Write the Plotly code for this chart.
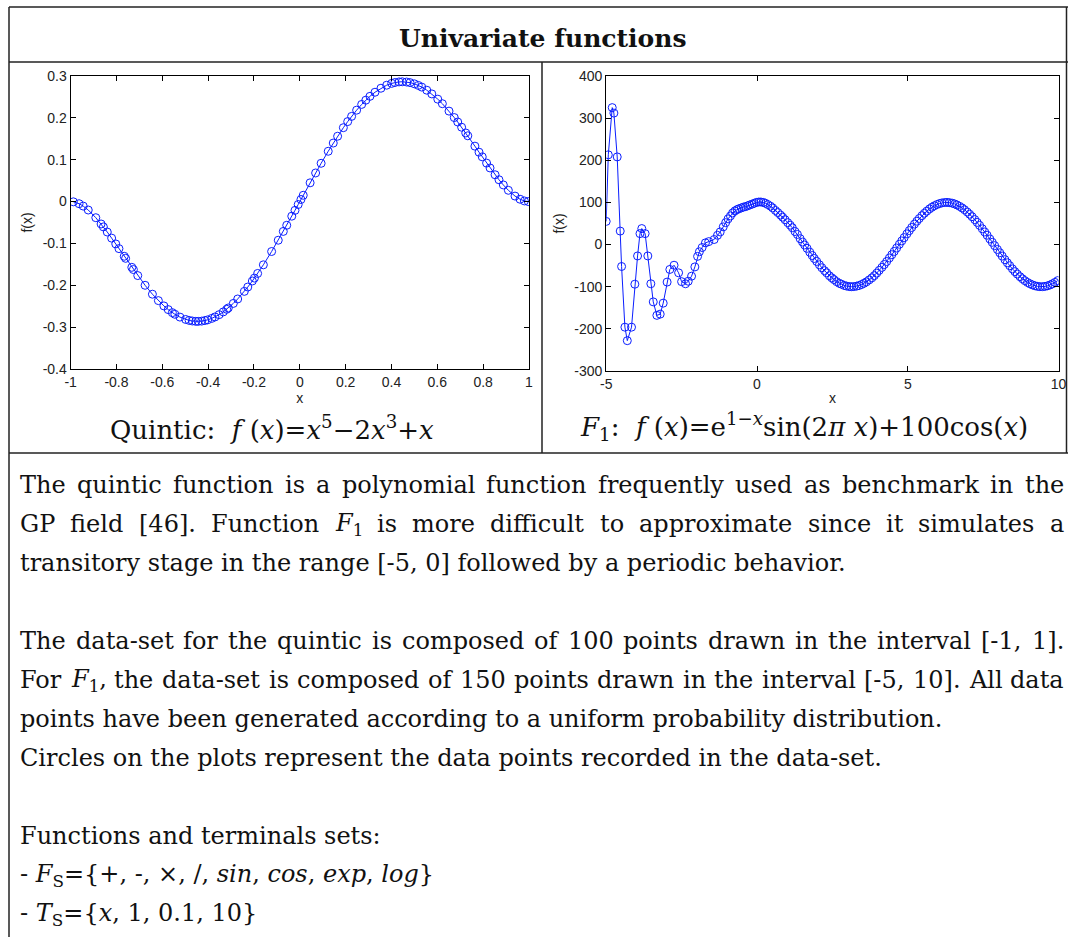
import re
import plotly.graph_objects as go

# ---- data: quintic benchmark samples ----
quintic_x = [-0.988, -0.963, -0.945, -0.923, -0.890, -0.867, -0.857, -0.840, -0.821, -0.803,
             -0.789, -0.766, -0.760, -0.733, -0.726, -0.707, -0.675, -0.643, -0.617, -0.593,
             -0.574, -0.556, -0.545, -0.523, -0.498, -0.483, -0.469, -0.454, -0.443, -0.428,
             -0.414, -0.402, -0.384, -0.370, -0.352, -0.334, -0.319, -0.312, -0.290, -0.271,
             -0.242, -0.227, -0.207, -0.198, -0.184, -0.159, -0.123, -0.094, -0.072, -0.057,
             -0.035, -0.021, -0.007,
             0.005, 0.015, 0.045, 0.069, 0.093, 0.124, 0.146, 0.165, 0.190, 0.209,
             0.226, 0.248, 0.270, 0.288, 0.306, 0.328, 0.354, 0.379, 0.401, 0.415,
             0.433, 0.447, 0.466, 0.481, 0.500, 0.517, 0.532, 0.554, 0.576, 0.602,
             0.622, 0.651, 0.674, 0.689, 0.706, 0.724, 0.733, 0.764, 0.782, 0.796,
             0.815, 0.830, 0.852, 0.869, 0.888, 0.910, 0.939, 0.961, 0.980, 0.997]
quintic_y = [-0.0006, -0.0051, -0.0108, -0.0202, -0.0385, -0.0535, -0.0605, -0.0728, -0.0873, -0.1012,
             -0.1124, -0.1307, -0.1356, -0.1571, -0.1624, -0.1768, -0.2000, -0.2213, -0.2366, -0.2493,
             -0.2581, -0.2654, -0.2693, -0.2760, -0.2816, -0.2839, -0.2853, -0.2862, -0.2862, -0.2856,
             -0.2842, -0.2826, -0.2791, -0.2756, -0.2702, -0.2636, -0.2574, -0.2542, -0.2433, -0.2327,
             -0.2145, -0.2042, -0.1897, -0.1828, -0.1717, -0.1511, -0.1193, -0.0923, -0.0713, -0.0566,
             -0.0349, -0.0210, -0.0070,
             0.0050, 0.0150, 0.0448, 0.0683, 0.0914, 0.1202, 0.1398, 0.1561, 0.1765, 0.1911,
             0.2035, 0.2184, 0.2321, 0.2422, 0.2514, 0.2612, 0.2708, 0.2780, 0.2824, 0.2844,
             0.2859, 0.2862, 0.2856, 0.2842, 0.2813, 0.2775, 0.2735, 0.2661, 0.2572, 0.2447,
             0.2338, 0.2161, 0.2007, 0.1901, 0.1776, 0.1639, 0.1571, 0.1324, 0.1180, 0.1069,
             0.0919, 0.0803, 0.0640, 0.0521, 0.0397, 0.0269, 0.0131, 0.0056, 0.0015, 0.0000]

# ---- data: F1 samples ----
f1_x = [-5.0, -4.93, -4.80, -4.745, -4.635, -4.535, -4.49, -4.38, -4.30, -4.16,
        -4.05, -3.96, -3.88, -3.82, -3.71, -3.62, -3.52, -3.44, -3.32, -3.21,
        -3.11, -2.98, -2.89, -2.75, -2.60, -2.50, -2.37, -2.28, -2.17, -2.06,
        -1.97, -1.91, -1.82, -1.71, -1.60, -1.42, -1.31, -1.22, -1.12, -1.04, -0.96,
        -0.88, -0.81, -0.73, -0.66, -0.60, -0.52, -0.45, -0.38, -0.31, -0.24,
        -0.16, -0.09, -0.02, 0.06, 0.13, 0.21, 0.28, 0.36, 0.45, 0.52,
        0.61, 0.69, 0.78, 0.85, 0.93,
        1.02, 1.10, 1.17, 1.26, 1.34, 1.43, 1.51, 1.58, 1.66, 1.75, 1.83, 1.90, 1.98,
        2.07, 2.15, 2.24, 2.31, 2.40, 2.48, 2.55, 2.64, 2.73, 2.80, 2.89, 2.97,
        3.06, 3.13, 3.21, 3.30, 3.38, 3.47, 3.55, 3.63, 3.72, 3.81, 3.89, 3.97,
        4.05, 4.14, 4.22, 4.30, 4.39, 4.47, 4.55, 4.63, 4.72, 4.80, 4.88, 4.97,
        5.05, 5.13, 5.22, 5.30, 5.38, 5.47, 5.55, 5.63, 5.72, 5.80, 5.88, 5.97,
        6.05, 6.13, 6.22, 6.30, 6.38, 6.47, 6.55, 6.63, 6.72, 6.80, 6.88, 6.97,
        7.05, 7.13, 7.22, 7.30, 7.38, 7.47, 7.55, 7.63, 7.72, 7.80, 7.88, 7.97,
        8.05, 8.13, 8.22, 8.30, 8.38, 8.47, 8.55, 8.63, 8.72, 8.80, 8.88, 8.97,
        9.05, 9.13, 9.22, 9.30, 9.38, 9.47, 9.55, 9.63, 9.72, 9.80, 9.88, 9.97]
f1_y = [55, 213, 325, 312, 208, 32, -52, -196, -228, -196,
        -94, -27, 26, 38, 26, -27, -93, -136, -168, -165,
        -139, -89, -59, -49, -67, -88, -93, -87, -75, -53,
        -28, -17, -7, 4, 7, 12, 22, 30, 42, 52, 61,
        68, 75, 80, 83, 85, 87, 89, 90, 92, 94,
        96, 98, 100, 101, 101, 100, 98, 95, 91, 87,
        81, 76, 70, 65, 59,
        52, 46, 40, 31, 24, 14, 6, -1, -9, -18, -26, -33, -40,
        -48, -55, -62, -67, -74, -79, -83, -88, -92, -94, -97, -98.5,
        -99.7, -100, -99.7, -98.7, -97.2, -94.7, -91.8, -88.4, -83.8, -78.9, -73.7, -67.7,
        -61.3, -54.2, -47.3, -40.2, -31.8, -24.0, -16.2, -8.2, 0.7, 8.7, 16.6, 25.4,
        33.1, 40.6, 48.6, 55.5, 61.9, 68.7, 74.3, 79.4, 84.6, 88.6, 92.0, 95.1,
        97.3, 98.8, 99.8, 100, 99.5, 98.3, 96.5, 94.0, 90.6, 86.9, 82.7, 77.3,
        72.0, 66.2, 59.3, 52.6, 45.6, 37.4, 29.9, 22.2, 13.3, 5.4, -2.6, -11.6,
        -19.5, -27.3, -35.8, -43.2, -50.2, -57.8, -64.2, -70.0, -76.2, -81.1, -85.6, -89.9,
        -93.0, -95.7, -97.9, -99.2, -99.9, -99.9, -99.2, -97.9, -95.7, -93.0, -89.8, -85.5]

# ---- tick labels ----
quintic_xticks = [-1, -0.8, -0.6, -0.4, -0.2, 0, 0.2, 0.4, 0.6, 0.8, 1]
quintic_xlabels = ["-1", "-0.8", "-0.6", "-0.4", "-0.2", "0", "0.2", "0.4", "0.6", "0.8", "1"]
quintic_yticks = [-0.4, -0.3, -0.2, -0.1, 0, 0.1, 0.2, 0.3]
quintic_ylabels = ["-0.4", "-0.3", "-0.2", "-0.1", "0", "0.1", "0.2", "0.3"]
f1_xticks = [-5, 0, 5, 10]
f1_xlabels = ["-5", "0", "5", "10"]
f1_yticks = [-300, -200, -100, 0, 100, 200, 300, 400]
f1_ylabels = ["-300", "-200", "-100", "0", "100", "200", "300", "400"]

# ---- text ----
title_text = "<b>Univariate functions</b>"
quintic_label = "Quintic:  <i>f</i> (<i>x</i>)=<i>x</i><sup>5</sup>\u22122<i>x</i><sup>3</sup>+<i>x</i>"
f1_label = ("<i>F</i><sub>1</sub>:  <i>f</i> (<i>x</i>)=e<sup>1\u2212<i>x</i></sup>"
            "sin(2<i>\u03c0 x</i>)+100cos(<i>x</i>)")
body_lines = [
    "The quintic function is a polynomial function frequently used as benchmark in the",
    "GP field [46]. Function <i>F</i><sub>1</sub> is more difficult to approximate since it simulates a",
    "transitory stage in the range [-5, 0] followed by a periodic behavior.",
    "",
    "The data-set for the quintic is composed of 100 points drawn in the interval [-1, 1].",
    "For <i>F</i><sub>1</sub>, the data-set is composed of 150 points drawn in the interval [-5, 10]. All data",
    "points have been generated according to a uniform probability distribution.",
    "Circles on the plots represent the data points recorded in the data-set.",
    "",
    "Functions and terminals sets:",
    "- <i>F</i><sub>S</sub>={+, -, \u00d7, /, <i>sin</i>, <i>cos</i>, <i>exp</i>, <i>log</i>}",
    "- <i>T</i><sub>S</sub>={<i>x</i>, 1, 0.1, 10}",
]
justified = {0, 1, 4, 5}

W, H = 1068, 937
SERIF = "DejaVu Serif"
SANS = "Liberation Sans, Arial, sans-serif"
BLUE = "rgb(10,30,255)"
BODY_SIZE = 24
TEXT_LEFT, TEXT_RIGHT = 18, 1062

# approximate DejaVu Serif advance widths (em units) for laying out justified lines
ADV = dict(zip("abcdefghijklmnopqrstuvwxyz",
               [.596, .640, .560, .640, .592, .370, .640, .644, .320, .310, .606, .320, .948,
                .644, .602, .640, .640, .478, .513, .402, .644, .565, .856, .564, .565, .523]))
ADV.update(dict(zip("ABCDEFGHIJKLMNOPQRSTUVWXYZ",
                    [.722, .735, .765, .802, .730, .694, .799, .872, .395, .401, .747, .664, 1.024,
                     .875, .820, .673, .820, .753, .685, .667, .843, .722, 1.028, .712, .660, .695])))
ADV.update({c: .636 for c in "0123456789"})
ADV.update({"[": .390, "]": .390, ".": .318, ",": .318, "-": .338, ":": .337, " ": .318})


def word_width(html, size):
    total, scale = 0.0, 1.0
    for tok in re.split(r"(<[^>]+>)", html):
        if tok.startswith("<"):
            if tok in ("<sub>", "<sup>"):
                scale = 0.7
            elif tok in ("</sub>", "</sup>"):
                scale = 1.0
            continue
        for ch in tok:
            total += ADV.get(ch, 0.6) * scale
    return total * size


def fx(p):
    return p / W


def fy(p):
    return 1 - p / H


fig = go.Figure()

fig.add_trace(go.Scatter(
    x=quintic_x, y=quintic_y, mode="lines+markers", xaxis="x", yaxis="y",
    line=dict(color=BLUE, width=1),
    marker=dict(symbol="circle-open", size=8, color=BLUE, line=dict(width=1)),
    showlegend=False, hoverinfo="skip"))

fig.add_trace(go.Scatter(
    x=f1_x, y=f1_y, mode="lines+markers", xaxis="x2", yaxis="y2",
    line=dict(color=BLUE, width=1),
    marker=dict(symbol="circle-open", size=8, color=BLUE, line=dict(width=1)),
    showlegend=False, hoverinfo="skip"))

axis_common = dict(
    showline=True, linecolor="#000", linewidth=1, mirror="ticks",
    ticks="inside", ticklen=5, tickwidth=1, tickcolor="#000",
    showgrid=False, zeroline=False, automargin=False,
    tickfont=dict(family=SANS, size=14, color="#222"),
)
title_font = dict(family=SANS, size=14, color="#222")

fig.update_layout(
    template="none",
    width=W, height=H,
    margin=dict(l=0, r=0, t=0, b=0, pad=0),
    paper_bgcolor="white", plot_bgcolor="white",
    xaxis=dict(domain=[fx(70.6), fx(529)], range=[-1, 1], anchor="y",
               tickvals=quintic_xticks, ticktext=quintic_xlabels,
               title=dict(text="x", font=title_font, standoff=2), **axis_common),
    yaxis=dict(domain=[fy(369), fy(76)], range=[-0.4, 0.3], anchor="x",
               tickvals=quintic_yticks, ticktext=quintic_ylabels,
               title=dict(text="f(x)", font=title_font, standoff=6), **axis_common),
    xaxis2=dict(domain=[fx(606.2), fx(1058.6)], range=[-5, 10], anchor="y2",
                tickvals=f1_xticks, ticktext=f1_xlabels,
                title=dict(text="x", font=title_font, standoff=2), **axis_common),
    yaxis2=dict(domain=[fy(371), fy(76)], range=[-300, 400], anchor="x2",
                tickvals=f1_yticks, ticktext=f1_ylabels,
                title=dict(text="f(x)", font=title_font, standoff=6), **axis_common),
)

# table rules
line_style = dict(color="#222", width=1.5)
rules = [
    (9, 7, 1068, 7),           # top border
    (9, 7, 9, 937),            # left border
    (1066.5, 7, 1066.5, 453),  # right border of the upper rows
    (9, 62, 1068, 62),         # under the title
    (542, 62, 542, 453),       # between the two plots
    (9, 453, 1068, 453),       # under the plots
]
for x0, y0, x1, y1 in rules:
    fig.add_shape(type="line", xref="paper", yref="paper",
                  x0=fx(x0), y0=fy(y0), x1=fx(x1), y1=fy(y1), line=line_style)

ann = []
ann.append(dict(text=title_text, x=fx(543), y=fy(38), xanchor="center", yanchor="middle",
                font=dict(family=SERIF, size=25, color="#111")))
ann.append(dict(text=quintic_label, x=fx(272), y=fy(428), xanchor="center", yanchor="middle",
                font=dict(family=SERIF, size=26, color="#111")))
ann.append(dict(text=f1_label, x=fx(804), y=fy(426), xanchor="center", yanchor="middle",
                font=dict(family=SERIF, size=26, color="#111")))

body_font = dict(family=SERIF, size=BODY_SIZE, color="#111")
line_y0, line_step = 485, 39.0
for i, t in enumerate(body_lines):
    if not t:
        continue
    yy = fy(line_y0 + i * line_step)
    if i not in justified:
        ann.append(dict(text=t, x=fx(TEXT_LEFT), y=yy, xanchor="left", yanchor="middle", font=body_font))
        continue
    # justified line: spread the words evenly across the full text width
    words = t.split(" ")
    widths = [word_width(w, BODY_SIZE) for w in words]
    gap = (TEXT_RIGHT - TEXT_LEFT - sum(widths)) / (len(words) - 1)
    pos = TEXT_LEFT
    for k, w in enumerate(words):
        ann.append(dict(text=w, x=fx(pos), y=yy, xanchor="left", yanchor="middle", font=body_font))
        pos += widths[k] + gap

for a in ann:
    a.update(xref="paper", yref="paper", showarrow=False)
fig.update_layout(annotations=ann)

fig.write_html("out.html")
